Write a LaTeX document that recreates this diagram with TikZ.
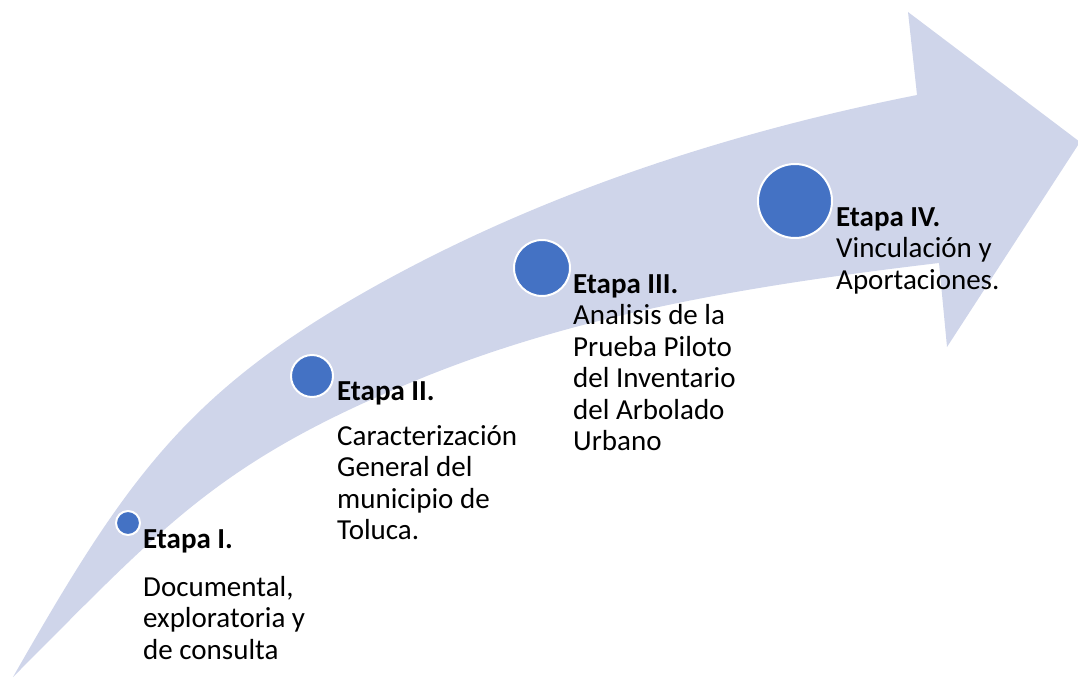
\documentclass[tikz,border=0pt]{standalone}
\usepackage{fontspec}
\setmainfont{Carlito}
\definecolor{arrowfill}{HTML}{CFD5EA}
\definecolor{dotblue}{HTML}{4472C4}
\tikzset{
  dot/.style={circle, fill=dotblue, draw=white, line width=2pt, inner sep=0pt},
  stagetitle/.style={anchor=base west, inner sep=0pt, font=\fontsize{29}{31.5}\selectfont\bfseries},
  stagebody/.style={anchor=base west, inner sep=0pt, font=\fontsize{29}{31.5}\selectfont},
}
\begin{document}
\begin{tikzpicture}[x=1pt, y=-1pt]
\useasboundingbox (0,0) rectangle (1078,677);
% curved arrow
\fill[arrowfill]
  (13,677) .. controls (123,484.5) and (183,395.6) .. (363,293)
  .. controls (533,196) and (725,133) .. (917,95)
  -- (908,12) -- (1080,142) -- (947,347) -- (939,263)
  .. controls (762,284) and (582,312) .. (417,380)
  .. controls (217,462) and (163,527) .. (13,677) -- cycle;
% dots
\node[dot, minimum size=24pt] (dotI) at (128,523) {};
\node[dot, minimum size=42pt] (dotII) at (312,376) {};
\node[dot, minimum size=56pt] (dotIII) at (542,268) {};
\node[dot, minimum size=74pt] (dotIV) at (795,201) {};
% texts
\node[stagetitle] (titleI) at (143,548) {Etapa I.};
\node[stagebody] (bodyI) at (143,596) {\begin{tabular}[t]{@{}l@{}}Documental,\\ exploratoria y\\ de consulta\end{tabular}};
\node[stagetitle] (titleII) at (337,400) {Etapa II.};
\node[stagebody] (bodyII) at (337,445) {\begin{tabular}[t]{@{}l@{}}Caracterización\\ General del\\ municipio de\\ Toluca.\end{tabular}};
\node[stagebody] (bodyIII) at (573,293) {\begin{tabular}[t]{@{}l@{}}\textbf{Etapa III.}\\ Analisis de la\\ Prueba Piloto\\ del Inventario\\ del Arbolado\\ Urbano\end{tabular}};
\node[stagebody] (bodyIV) at (836,226) {\begin{tabular}[t]{@{}l@{}}\textbf{Etapa IV.}\\ Vinculación y\\ Aportaciones.\end{tabular}};
\end{tikzpicture}
\end{document}
